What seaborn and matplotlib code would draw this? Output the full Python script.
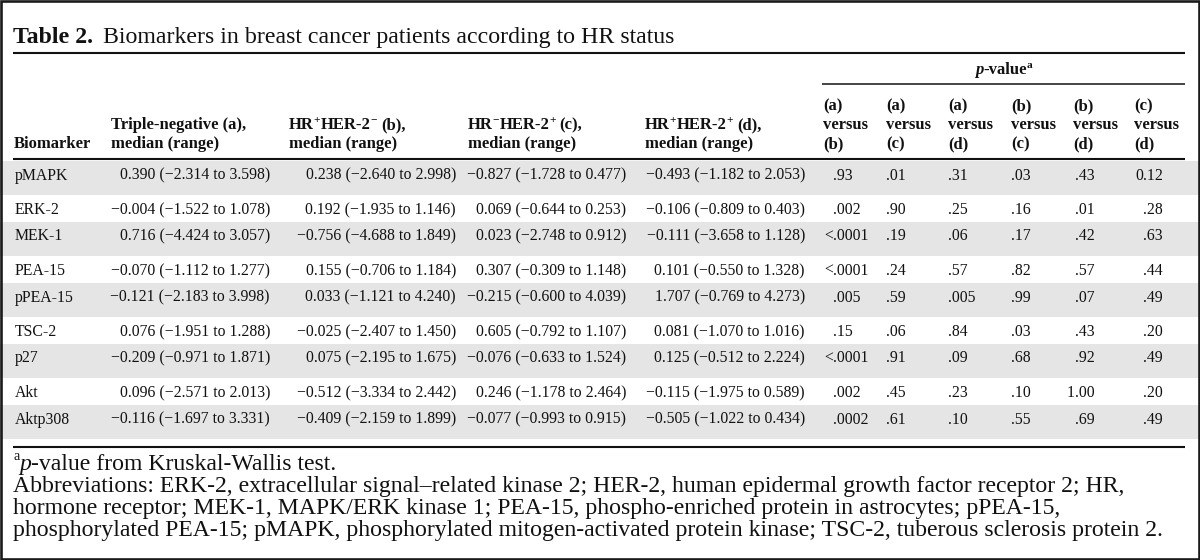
import matplotlib
matplotlib.use("Agg")
import matplotlib.pyplot as plt
import matplotlib.patches as mpatches
import seaborn as sns

# ---- table data ----
biomarkers = ["pMAPK", "ERK-2", "MEK-1", "PEA-15", "pPEA-15", "TSC-2", "p27", "Akt", "Aktp308"]

tn_med = [0.390, -0.004, 0.716, -0.070, -0.121, 0.076, -0.209, 0.096, -0.116]
tn_low = [-2.314, -1.522, -4.424, -1.112, -2.183, -1.951, -0.971, -2.571, -1.697]
tn_high = [3.598, 1.078, 3.057, 1.277, 3.998, 1.288, 1.871, 2.013, 3.331]

hrp_med = [0.238, 0.192, -0.756, 0.155, 0.033, -0.025, 0.075, -0.512, -0.409]
hrp_low = [-2.640, -1.935, -4.688, -0.706, -1.121, -2.407, -2.195, -3.334, -2.159]
hrp_high = [2.998, 1.146, 1.849, 1.184, 4.240, 1.450, 1.675, 2.442, 1.899]

her_med = [-0.827, 0.069, 0.023, 0.307, -0.215, 0.605, -0.076, 0.246, -0.077]
her_low = [-1.728, -0.644, -2.748, -0.309, -0.600, -0.792, -0.633, -1.178, -0.993]
her_high = [0.477, 0.253, 0.912, 1.148, 4.039, 1.107, 1.524, 2.464, 0.915]

dp_med = [-0.493, -0.106, -0.111, 0.101, 1.707, 0.081, 0.125, -0.115, -0.505]
dp_low = [-1.182, -0.809, -3.658, -0.550, -0.769, -1.070, -0.512, -1.975, -1.022]
dp_high = [2.053, 0.403, 1.128, 1.328, 4.273, 1.016, 2.224, 0.589, 0.434]

p_ab = [".93", ".002", "<.0001", "<.0001", ".005", ".15", "<.0001", ".002", ".0002"]
p_ac = [".01", ".90", ".19", ".24", ".59", ".06", ".91", ".45", ".61"]
p_ad = [".31", ".25", ".06", ".57", ".005", ".84", ".09", ".23", ".10"]
p_bc = [".03", ".16", ".17", ".82", ".99", ".03", ".68", ".10", ".55"]
p_bd = [".43", ".01", ".42", ".57", ".07", ".43", ".92", "1.00", ".69"]
p_cd = ["0.12", ".28", ".63", ".44", ".49", ".20", ".49", ".20", ".49"]

title_num = "Table 2."
title_txt = "Biomarkers in breast cancer patients according to HR status"
foot_lines = [
    "Abbreviations: ERK-2, extracellular signal\u2013related kinase 2; HER-2, human epidermal growth factor receptor 2; HR,",
    "hormone receptor; MEK-1, MAPK/ERK kinase 1; PEA-15, phospho-enriched protein in astrocytes; pPEA-15,",
    "phosphorylated PEA-15; pMAPK, phosphorylated mitogen-activated protein kinase; TSC-2, tuberous sclerosis protein 2.",
]

sns.set_style("white")
plt.rcParams["font.family"] = ["Liberation Serif", "DejaVu Serif"]
plt.rcParams["text.color"] = "#111111"

fig = plt.figure(figsize=(12, 5.6), dpi=100)
ax = fig.add_axes([0, 0, 1, 1])
ax.set_xlim(0, 1200)
ax.set_ylim(560, 0)
ax.axis("off")
fig.canvas.draw()
rend = fig.canvas.get_renderer()

HEAD = 12
BODY = 11.3
PX = HEAD * 100 / 72.0


def fmt(v):
    return f"{v:.3f}".replace("-", "\u2212")


def put(x, y, parts, size=HEAD, **common):
    # draw a run of text pieces one after the other on one baseline
    out = []
    for s, kw in parts:
        kw2 = dict(common)
        kw2.update(kw)
        dy = kw2.pop("dy", 0)
        gap = kw2.pop("gap", 0)
        sz = kw2.pop("size", size)
        x += gap
        t = ax.text(x, y - dy, s, va="baseline", ha="left", fontsize=sz, **kw2)
        out.append(t)
        x += t.get_window_extent(rend).width
    return x, out


# ---- frame ----
ax.add_patch(mpatches.Rectangle((1.2, 1.0), 1197.6, 558, fill=False, lw=1.9,
                                edgecolor="#1a1a1a", zorder=5))

# ---- title ----
put(13, 43, [(title_num, dict(weight="bold")),
             (title_txt, dict(gap=10))], size=17.2)

L, R = 13, 1185
ax.hlines(53, L, R, color="#111111", lw=1.5)

# ---- header ----
pcols = [(823, 833), (886, 886), (948, 948), (1011, 1011), (1073, 1075), (1134, 1143)]
pnames = [("a", "b"), ("a", "c"), ("a", "d"), ("b", "c"), ("b", "d"), ("c", "d")]

sup = dict(size=HEAD * 0.68, dy=PX * 0.38)
x0, ts = put(0, 74, [("p", dict(weight="bold", style="italic")),
                     ("-value", dict(weight="bold")),
                     ("a", dict(weight="bold", **sup))])
shift = (pcols[0][0] + R) / 2 - x0 / 2
for t in ts:
    t.set_x(t.get_position()[0] + shift)
ax.hlines(83.5, pcols[0][0] - 1, R, color="#111111", lw=1.1)

b = dict(weight="bold")
put(14, 148, [("Biomarker", b)])
col_x = [111, 289, 468, 645]
heads = [
    [("Triple-negative (a),", b)],
    [("HR", b), ("+", dict(weight="bold", **sup)), ("HER-2", b), ("\u2212", dict(weight="bold", **sup)), ("(b),", dict(weight="bold", gap=4))],
    [("HR", b), ("\u2212", dict(weight="bold", **sup)), ("HER-2", b), ("+", dict(weight="bold", **sup)), ("(c),", dict(weight="bold", gap=4))],
    [("HR", b), ("+", dict(weight="bold", **sup)), ("HER-2", b), ("+", dict(weight="bold", **sup)), ("(d),", dict(weight="bold", gap=4))],
]
for cx, hp in zip(col_x, heads):
    put(cx, 129, hp)
    put(cx, 148, [("median (range)", b)])
for (hx, _), (p1, p2) in zip(pcols, pnames):
    put(hx, 110, [(f"({p1})", b)])
    put(hx, 129, [("versus", b)])
    put(hx, 148, [(f"({p2})", b)])

ax.hlines(159, L, R, color="#111111", lw=1.5)

# ---- body rows ----
G, W = 34, 27
top = 161
meds = [(tn_med, tn_low, tn_high), (hrp_med, hrp_low, hrp_high),
        (her_med, her_low, her_high), (dp_med, dp_low, dp_high)]
med_right = [270, 456, 626, 805]
pvals = [p_ab, p_ac, p_ad, p_bc, p_bd, p_cd]

y = top
for i, name in enumerate(biomarkers):
    shaded = i % 2 == 0
    h = G if shaded else W
    if shaded:
        ax.axhspan(y, y + h, color="#e5e5e5", lw=0, zorder=0)
    base = (y + 13 if shaded else y + h / 2) + 5.5
    ax.text(15, base, name, va="baseline", fontsize=BODY)
    for (m, lo, hi), rx in zip(meds, med_right):
        s = f"{fmt(m[i])} ({fmt(lo[i])} to {fmt(hi[i])})"
        ax.text(rx, base, s, va="baseline", ha="right", fontsize=BODY)
    for (_, dx), col in zip(pcols, pvals):
        s = col[i]
        k = s.index(".")
        if k > 0:
            ax.text(dx, base, s[:k], va="baseline", ha="right", fontsize=BODY)
        ax.text(dx, base, s[k:], va="baseline", ha="left", fontsize=BODY)
    y += h

ax.hlines(447, L, R, color="#111111", lw=1.5)

# ---- footnotes ----
probe = ax.text(0, 0, foot_lines[-1], fontsize=16)
fsz = 16 * 1152 / probe.get_window_extent(rend).width
probe.remove()

put(13, 470, [("a", dict(size=fsz * 0.6, dy=fsz * 100 / 72 * 0.4)),
              ("p", dict(style="italic")),
              ("-value from Kruskal-Wallis test.", {})], size=fsz)
for k, line in enumerate(foot_lines):
    ax.text(13, 492 + 22 * k, line, va="baseline", fontsize=fsz)

fig.savefig("out.png", dpi=100)
